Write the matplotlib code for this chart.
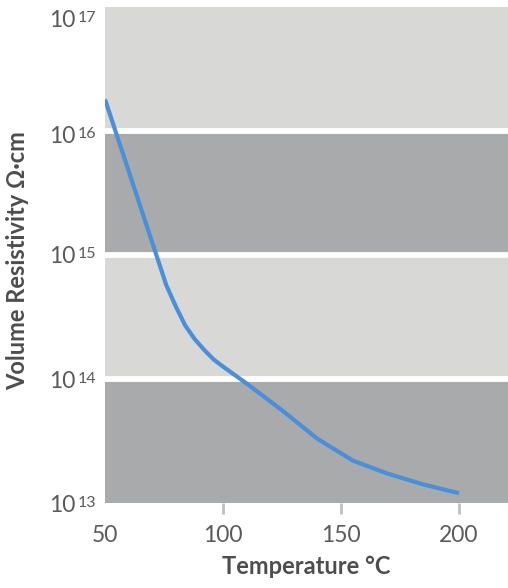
import matplotlib
matplotlib.use("Agg")
import matplotlib.pyplot as plt
import matplotlib.transforms as mtransforms
from matplotlib.ticker import FixedLocator, FixedFormatter, NullFormatter

# Volume resistivity vs temperature
temperature_c = [50, 76, 80, 84, 88, 92, 96, 100, 110, 125, 140, 155, 170, 185, 200]
resistivity = [1.8e16, 5.7e14, 3.85e14, 2.7e14, 2.1e14, 1.72e14, 1.44e14, 1.26e14,
               9.2e13, 5.6e13, 3.3e13, 2.2e13, 1.72e13, 1.41e13, 1.2e13]

x_ticks = [50, 100, 150, 200]
x_tick_labels = ["50", "100", "150", "200"]
y_ticks = [1e13, 1e14, 1e15, 1e16, 1e17]
y_exponents = ["13", "14", "15", "16", "17"]

plt.rcParams["font.family"] = ["Lato", "DejaVu Sans"]

LIGHT = "#d8d8d7"
DARK = "#a9aaac"
LINE = "#4a8fd8"
TEXT = "#5a5a5d"
LABEL = "#4d4d50"

fig = plt.figure(figsize=(5.08, 5.88), dpi=100)
W, H = fig.bbox.width, fig.bbox.height
ax = fig.add_axes([105 / W, 1 - 503 / H, 1 - 105 / W, 496 / H])
ax.set_yscale("log")
ax.set_xlim(50, 220.8)
ax.set_ylim(1e13, 1e17)

# alternating decade bands separated by white rules
for i in range(len(y_ticks) - 1):
    ax.axhspan(y_ticks[i], y_ticks[i + 1], color=DARK if i % 2 == 0 else LIGHT,
               lw=0, zorder=0)
for y in y_ticks[1:-1]:
    ax.axhline(y, color="white", lw=4.2, zorder=1)

ax.plot(temperature_c, resistivity, color=LINE, lw=3.0, zorder=3,
        solid_capstyle="butt", solid_joinstyle="round")

for s in ax.spines.values():
    s.set_visible(False)

ax.xaxis.set_major_locator(FixedLocator(x_ticks))
ax.xaxis.set_major_formatter(FixedFormatter(x_tick_labels))
ax.xaxis.set_minor_locator(FixedLocator([]))
ax.yaxis.set_major_locator(FixedLocator(y_ticks))
ax.yaxis.set_major_formatter(NullFormatter())
ax.yaxis.set_minor_locator(FixedLocator([]))
ax.yaxis.set_minor_formatter(NullFormatter())

ax.tick_params(axis="x", length=8, width=2.0, color="#bfbfbf", pad=8,
               labelsize=16.5, labelcolor=TEXT)
ax.tick_params(axis="y", length=0)
ax.xaxis.get_major_ticks()[0].tick1line.set_visible(False)

# y tick labels as "10" with a small raised exponent
label_drop_px = [9, 9, 8, 12, 20]   # baseline below each decade, in pixels
base_right_px = 75.5
exp_left_px = 78.0
for val, ex, drop in zip(y_ticks, y_exponents, label_drop_px):
    off = mtransforms.ScaledTranslation(0, -drop / 100, fig.dpi_scale_trans)
    tr = mtransforms.blended_transform_factory(fig.transFigure, ax.transData) + off
    ax.text(base_right_px / W, val, "10", transform=tr, ha="right",
            va="baseline", fontsize=16.5, color=TEXT, clip_on=False)
    off2 = mtransforms.ScaledTranslation(0, (-drop + 5) / 100, fig.dpi_scale_trans)
    tr2 = mtransforms.blended_transform_factory(fig.transFigure, ax.transData) + off2
    ax.text(exp_left_px / W, val, ex, transform=tr2, ha="left",
            va="baseline", fontsize=11.5, color=TEXT, clip_on=False)

ax.set_xlabel("Temperature °C", fontsize=17, fontweight="bold", color=LABEL,
              labelpad=6)
ax.text(18 / W, 1 - 261 / H, "Volume Resistivity Ω·cm", transform=fig.transFigure,
        rotation=90, ha="center", va="center", fontsize=17, fontweight="bold",
        color=LABEL)

fig.savefig("out.png", dpi=100)
